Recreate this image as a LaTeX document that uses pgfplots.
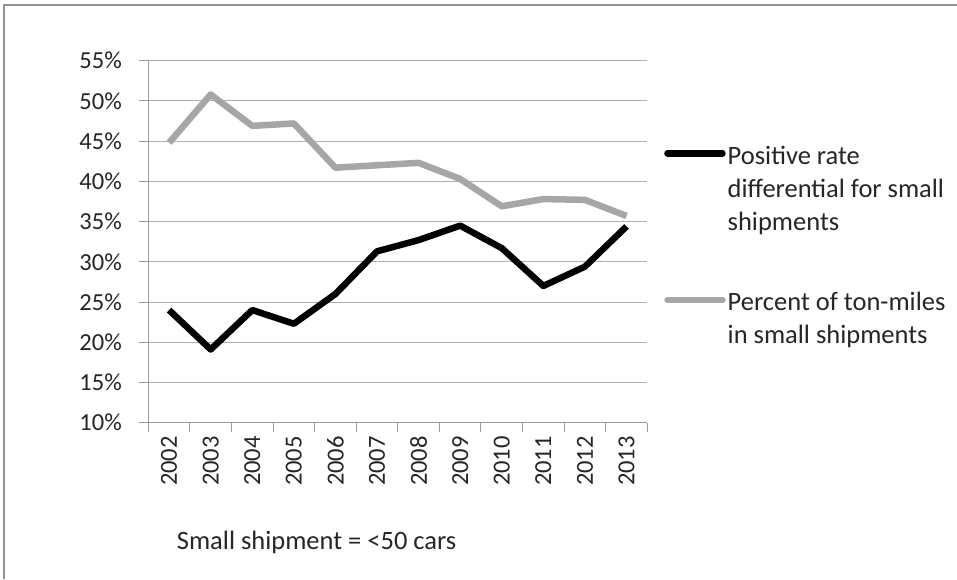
\documentclass[border=0pt]{standalone}
\usepackage{pgfplots}
\pgfplotsset{compat=1.18}
\usepackage{fontspec}
\setmainfont{Carlito}
\definecolor{grayline}{HTML}{A6A6A6}
\definecolor{gridc}{HTML}{B0B0B0}
\definecolor{axisc}{HTML}{9A9A9A}
\definecolor{txt}{HTML}{262626}
\begin{document}
\begin{tikzpicture}[x=1pt,y=1pt]
\useasboundingbox (0,0) rectangle (957,579);
\fill[white] (0,0) rectangle (957,579);
\draw[color=gray!85, line width=2pt] (4,0) -- (4,574) -- (957,574);
\begin{axis}[
  at={(148.3pt,156.3pt)}, anchor=south west,
  scale only axis, width=499pt, height=362pt,
  xmin=-0.5, xmax=11.5, ymin=10, ymax=55,
  ytick={10,15,...,55},
  yticklabel={\pgfmathprintnumber[assume math mode=true]{\tick}\%},
  yticklabel style={xshift=-14pt},
  xtick={-0.5,0.5,...,11.5},
  xticklabels={},
  extra x ticks={0,1,...,11},
  extra x tick labels={2002,2003,2004,2005,2006,2007,2008,2009,2010,2011,2012,2013},
  extra x tick style={major tick length=0pt, grid=none,
     xticklabel style={yshift=-10pt, rotate=90, anchor=east}},
  ymajorgrids,
  grid style={gridc, line width=1pt},
  tick align=outside, major tick length=9pt,
  axis lines*=left,
  axis line style={axisc, line width=1pt},
  tick style={axisc, line width=1pt},
  tick label style={font=\fontsize{24.5}{28}\selectfont, text=txt},
  legend style={draw=none, fill=none, at={(1.0335,0.7837)}, anchor=north west,
     font=\fontsize{26.5}{33}\selectfont, text=txt, inner sep=0pt,
     row sep=118pt},
  legend cell align=left,
  legend image code/.code={\draw[#1, line cap=round] (0pt,0pt) -- (55pt,0pt);},
]
\addplot[black, line width=6.5pt, line join=round] coordinates {
(0,24.0)(1,19.1)(2,24.0)(3,22.3)(4,26.0)(5,31.3)(6,32.7)(7,34.5)(8,31.7)(9,27.0)(10,29.4)(11,34.4)};
\addlegendentry{\begin{tabular}[t]{@{}l@{}}Positive rate\\differential for small\\shipments\end{tabular}}
\addplot[grayline, line width=6.5pt, line join=round] coordinates {
(0,44.8)(1,50.8)(2,46.9)(3,47.2)(4,41.7)(5,42.0)(6,42.3)(7,40.3)(8,36.9)(9,37.8)(10,37.7)(11,35.7)};
\addlegendentry{\begin{tabular}[t]{@{}l@{}}Percent of ton-miles\\in small shipments\end{tabular}}
\end{axis}
\node[anchor=base west, inner sep=0pt, font=\fontsize{26.5}{30}\selectfont, text=txt] at (176.7,30) {Small shipment = <50 cars};
\end{tikzpicture}
\end{document}
